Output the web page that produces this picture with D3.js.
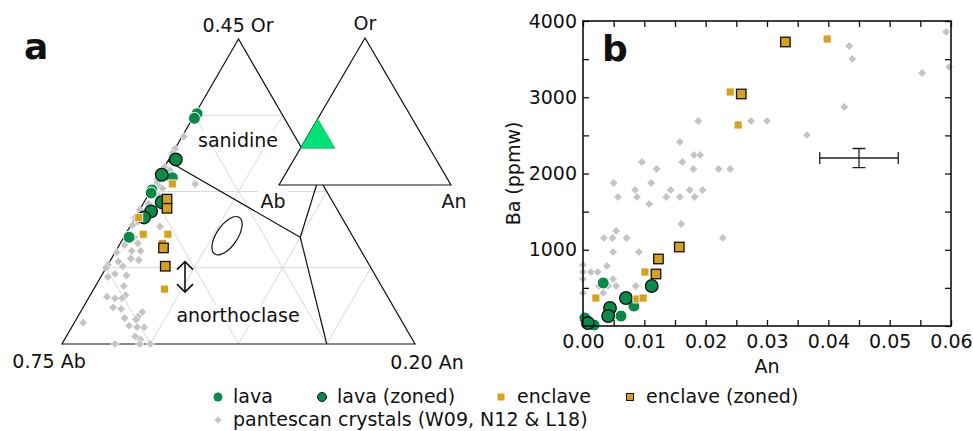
<!DOCTYPE html>
<html><head><meta charset="utf-8">
<script src="https://cdn.jsdelivr.net/npm/d3@7"></script>
<style>
body{margin:0;background:#fff}
svg{display:block}
text{font-family:"DejaVu Sans",sans-serif;fill:#111}
</style>
</head><body>
<svg id="c" width="973" height="431"></svg>
<script>
// ================= DATA =================
// Panel a (ternary, zoomed): points are [An, Or] mole fractions; Ab = 1 - An - Or
const ternLava = [[0.001,0.401],[0.001,0.398],[0.008,0.359],[0.0005,0.351],[0.001,0.349],[0.003,0.320]];
const ternLavaZoned = [[0.004,0.371],[0.001,0.361],[0.010,0.343],[0.007,0.337],[0.005,0.333]];
const ternEnclave = [[0.010,0.355],[0.002,0.333],[0.010,0.322],[0.024,0.322],[0.024,0.316],[0.040,0.286]];
const ternEnclaveZoned = [[0.012,0.345],[0.015,0.339],[0.026,0.313],[0.033,0.301]];
const ternPantescan = [
 [0.001,0.386],[0.000,0.378],[0.000,0.375],[0.002,0.372],[0.000,0.366],[0.004,0.364],[0.023,0.355],
 [0.000,0.358],[0.001,0.356],[0.004,0.353],[0.006,0.352],[0.005,0.348],[0.003,0.342],[0.000,0.338],
 [0.000,0.333],[0.003,0.330],[0.001,0.328],[0.017,0.327],[0.006,0.320],[0.010,0.316],[0.003,0.315],
 [0.014,0.311],[0.009,0.311],[0.001,0.310],[0.011,0.306],[0.016,0.305],[0.005,0.304],[0.000,0.302],
 [0.009,0.301],[0.000,0.300],[0.007,0.296],[0.014,0.295],[0.004,0.294],[0.016,0.288],[0.020,0.282],
 [0.010,0.281],[0.015,0.280],[0.019,0.280],[0.017,0.274],[0.022,0.273],[0.035,0.271],[0.034,0.268],
 [0.027,0.267],[0.034,0.266],[0.005,0.264],[0.032,0.262],[0.041,0.261],[0.037,0.261],[0.039,0.255],
 [0.043,0.253],[0.030,0.250],[0.044,0.250],[0.050,0.250]
];
// field boundaries (sanidine / anorthoclase / plagioclase), [An, Or]
const boundaries = [
 [[0.000,0.370],[0.100,0.320]],
 [[0.100,0.320],[0.091,0.359]],
 [[0.100,0.320],[0.150,0.250]]
];
// zoom window of the ternary
const orRange = [0.25, 0.45], anRange = [0, 0.20], abRange = [0.55, 0.75];
const ternGridSteps = [0.05, 0.10, 0.15];
const ternCornerLabels = ["0.45 Or", "0.75 Ab", "0.20 An"];
const insetLabels = ["Or", "Ab", "An"];
const fieldLabels = ["sanidine", "anorthoclase"];
// uncertainty ellipse (centre in [An, Or])
const ellipseCentre = [0.058, 0.321];

// Panel b: An (mole fraction) vs Ba (ppmw)
const lavaAn = [0.0033,0.0062,0.0083,0.0003,0.0018];
const lavaBa = [564,131,262,105,13];
const lavaZonedAn = [0.0112,0.0070,0.0044,0.0041,0.0008];
const lavaZonedBa = [525,367,236,131,39];
const enclaveAn = [0.0240,0.0398,0.0253,0.0101,0.0021,0.0088,0.0098];
const enclaveBa = [3069,3764,2636,708,367,354,367];
const enclaveZonedAn = [0.0330,0.0258,0.0157,0.0123,0.0119];
const enclaveZonedBa = [3725,3043,1036,879,682];
const pantAn = [0.0592,0.0597,0.0434,0.0439,0.0553,0.0426,0.0365,0.0274,0.0300,0.0188,0.0158,0.0181,0.0191,
 0.0162,0.0096,0.0120,0.0180,0.0221,0.0240,0.0050,0.0111,0.0085,0.0143,0.0174,0.0195,0.0057,0.0088,0.0136,
 0.0158,0.0182,0.0108,0.0160,0.0034,0.0048,0.0054,0.0071,0.0228,0.0049,0.0091,0.0039,0.0000,0.0013,0.0024,
 0.0000,0.0000,0.0049,0.0054,0.0086,0.0041,0.0026,0.0000,0.0033];
const pantBa = [3856,3397,3672,3502,3318,2872,2505,2689,2689,2689,2413,2243,2243,
 2151,2151,2059,2059,2059,2059,1875,1875,1784,1784,1784,1784,1692,1692,1692,
 1692,1692,1600,1338,1154,1154,1246,1154,1154,971,971,787,800,708,708,
 708,616,616,525,525,525,525,433,433];
const errAn = 0.045, errBa = 2203, errAnSd = 0.0064, errBaSd = 125;
const xTicks = [0,0.01,0.02,0.03,0.04,0.05,0.06];
const yTicks = [1000,2000,3000,4000];
const legendItems = ["lava","lava (zoned)","enclave","enclave (zoned)","pantescan crystals (W09, N12 & L18)"];

// ================= STYLE =================
const GREEN = "#0a8a48", GOLD = "#d6a020", GREY = "#c4c4c4", GRID = "#d9d9d9";
const svg = d3.select("#c");

// ================= PANEL A =================
const A = svg.append("g");
const tY = d3.scaleLinear().domain(orRange).range([344, 39]);
const tXo = d3.scaleLinear().domain(orRange).range([62, 238.5]);
const tXa = d3.scaleLinear().domain(anRange).range([0, 353]);
const P = d => [tXo(d[1]) + tXa(d[0]), tY(d[1])];

const gridSegs = [];
ternGridSteps.forEach(s => {
  const o = orRange[0] + s;
  gridSegs.push([[0, o], [1 - o - abRange[0], o]]);
  const an = anRange[0] + s;
  gridSegs.push([[an, orRange[0]], [an, 1 - an - abRange[0]]]);
  const ab = abRange[0] + s;
  gridSegs.push([[0, 1 - ab], [1 - ab - orRange[0], orRange[0]]]);
});
A.selectAll("line.grid").data(gridSegs).join("line")
  .attr("x1", d => P(d[0])[0]).attr("y1", d => P(d[0])[1])
  .attr("x2", d => P(d[1])[0]).attr("y2", d => P(d[1])[1])
  .attr("stroke", GRID).attr("stroke-width", 1);

const corners = [[0, orRange[1]], [0, orRange[0]], [anRange[1], orRange[0]]];
A.append("path").attr("d", "M" + corners.map(P).join("L") + "Z")
  .attr("fill", "none").attr("stroke", "#111").attr("stroke-width", 1.2);

A.selectAll("path.bd").data(boundaries).join("path")
  .attr("d", d => "M" + d.map(P).join("L"))
  .attr("fill", "none").attr("stroke", "#111").attr("stroke-width", 1.2);

function bgText(g, x, y, t, size, anchor) {
  const tx = g.append("text").attr("x", x).attr("y", y).attr("text-anchor", anchor || "middle")
    .attr("font-size", size).text(t);
  const b = tx.node().getBBox();
  g.insert("rect", () => tx.node()).attr("x", b.x - 2).attr("y", b.y + 1).attr("width", b.width + 4)
    .attr("height", b.height - 2).attr("fill", "#fff");
  return tx;
}
bgText(A, 238, 147, fieldLabels[0], 19);
bgText(A, 238, 322, fieldLabels[1], 19);

const ec = P(ellipseCentre);
A.append("ellipse").attr("cx", 0).attr("cy", 0).attr("rx", 10.5).attr("ry", 22)
  .attr("transform", `translate(${ec[0]},${ec[1]}) rotate(34)`)
  .attr("fill", "none").attr("stroke", "#111").attr("stroke-width", 1.2);
const arrTop = P([0.044, 0.304]), arrBot = P([0.044, 0.284]);
const ax = 185;
A.append("path").attr("d", `M${ax},${arrTop[1]}L${ax},${arrBot[1]}M${ax-8},${arrTop[1]+8}L${ax},${arrTop[1]}L${ax+8},${arrTop[1]+8}M${ax-8},${arrBot[1]-8}L${ax},${arrBot[1]}L${ax+8},${arrBot[1]-8}`)
  .attr("fill", "none").attr("stroke", "#111").attr("stroke-width", 1.6);

const diamond = s => `M0,${-s}L${s},0L0,${s}L${-s},0Z`;
function drawPoints(g, pts, kind) {
  if (kind === "pant") {
    g.selectAll(null).data(pts).join("path").attr("d", diamond(4.3))
      .attr("transform", d => `translate(${d[0]},${d[1]})`)
      .attr("fill", GREY).attr("stroke", "#fff").attr("stroke-width", 0.7);
  } else if (kind === "lava" || kind === "lavaZ") {
    g.selectAll(null).data(pts).join("circle").attr("cx", d => d[0]).attr("cy", d => d[1])
      .attr("r", kind === "lava" ? 6 : 6.3).attr("fill", GREEN)
      .attr("stroke", kind === "lava" ? "#fff" : "#111").attr("stroke-width", kind === "lava" ? 1 : 1.3);
  } else {
    const s = kind === "enc" ? 8 : 9.5;
    g.selectAll(null).data(pts).join("rect").attr("x", d => d[0] - s/2).attr("y", d => d[1] - s/2)
      .attr("width", s).attr("height", s).attr("fill", GOLD)
      .attr("stroke", kind === "enc" ? "#fff" : "#111").attr("stroke-width", kind === "enc" ? 0.8 : 1.3);
  }
}
drawPoints(A, ternPantescan.map(P), "pant");
drawPoints(A, ternLava.map(P), "lava");
drawPoints(A, ternLavaZoned.map(P), "lavaZ");
drawPoints(A, ternEnclave.map(P), "enc");
drawPoints(A, ternEnclaveZoned.map(P), "encZ");

A.append("text").attr("x", 238).attr("y", 32).attr("text-anchor", "middle").attr("font-size", 19).text(ternCornerLabels[0]);
A.append("text").attr("x", 49).attr("y", 368).attr("text-anchor", "middle").attr("font-size", 19).text(ternCornerLabels[1]);
A.append("text").attr("x", 427).attr("y", 369).attr("text-anchor", "middle").attr("font-size", 19).text(ternCornerLabels[2]);

const iY = d3.scaleLinear().domain([0, 1]).range([185, 38]);
const iXo = d3.scaleLinear().domain([0, 1]).range([279, 365]);
const iXa = d3.scaleLinear().domain([0, 1]).range([0, 172]);
const PI_ = d => [iXo(d[1]) + iXa(d[0]), iY(d[1])];
A.append("path").attr("d", "M" + [[0,1],[0,0],[1,0]].map(PI_).join("L") + "Z")
  .attr("fill", "#fff").attr("stroke", "#111").attr("stroke-width", 1.2);
A.append("path").attr("d", "M" + corners.map(PI_).join("L") + "Z")
  .attr("fill", "#00e277").attr("stroke", "#1fb364").attr("stroke-width", 0.8);
A.append("text").attr("x", 365).attr("y", 30).attr("text-anchor", "middle").attr("font-size", 19).text(insetLabels[0]);
bgText(A, 273, 208, insetLabels[1], 19);
A.append("text").attr("x", 454).attr("y", 208).attr("text-anchor", "middle").attr("font-size", 19).text(insetLabels[2]);

A.append("text").attr("x", 24).attr("y", 59).attr("font-family", "Liberation Sans, Arial, sans-serif")
  .attr("font-weight", "bold").attr("font-size", 36).text("a");

// ================= PANEL B =================
const B = svg.append("g");
const x = d3.scaleLinear().domain([0, 0.06]).range([583, 951]);
const y = d3.scaleLinear().domain([0, 4000]).range([326, 21]);
const minorX = d3.range(0, 0.0601, 0.005), minorY = d3.range(0, 4001, 500);
function styleAxis(g) {
  g.select(".domain").remove();
  g.selectAll(".tick line").attr("stroke", "#111").attr("stroke-width", 1.3);
  g.selectAll("text").attr("font-family", "DejaVu Sans, sans-serif").attr("font-size", 19).attr("fill", "#111");
}
B.append("g").attr("transform", "translate(0,326)")
  .call(d3.axisBottom(x).tickValues(minorX).tickSize(-6).tickFormat("")).call(styleAxis);
B.append("g").attr("transform", "translate(0,326)")
  .call(d3.axisBottom(x).tickValues(xTicks).tickSize(0).tickPadding(9).tickFormat(d3.format(".2f"))).call(styleAxis);
B.append("g").attr("transform", "translate(0,21)")
  .call(d3.axisTop(x).tickValues(minorX).tickSize(-6).tickFormat("")).call(styleAxis);
B.append("g").attr("transform", "translate(583,0)")
  .call(d3.axisLeft(y).tickValues(minorY).tickSize(-6).tickFormat("")).call(styleAxis);
B.append("g").attr("transform", "translate(583,0)")
  .call(d3.axisLeft(y).tickValues(yTicks).tickSize(0).tickPadding(6).tickFormat(d3.format("d"))).call(styleAxis);
B.append("g").attr("transform", "translate(951,0)")
  .call(d3.axisRight(y).tickValues(minorY).tickSize(-6).tickFormat("")).call(styleAxis);

const zipB = (xs, ys) => xs.map((v, i) => [x(v), y(ys[i])]);
drawPoints(B, zipB(pantAn, pantBa), "pant");
drawPoints(B, zipB(lavaAn, lavaBa), "lava");
drawPoints(B, zipB(lavaZonedAn, lavaZonedBa), "lavaZ");
drawPoints(B, zipB(enclaveAn, enclaveBa), "enc");
drawPoints(B, zipB(enclaveZonedAn, enclaveZonedBa), "encZ");

const ex0 = x(errAn - errAnSd), ex1 = x(errAn + errAnSd), ecx = x(errAn);
const ey = y(errBa), ey0 = y(errBa - errBaSd), ey1 = y(errBa + errBaSd);
B.append("path").attr("d",
  `M${ex0},${ey}L${ex1},${ey}M${ex0},${ey-6}L${ex0},${ey+6}M${ex1},${ey-6}L${ex1},${ey+6}` +
  `M${ecx},${ey0}L${ecx},${ey1}M${ecx-6.5},${ey0}L${ecx+6.5},${ey0}M${ecx-6.5},${ey1}L${ecx+6.5},${ey1}`)
  .attr("fill", "none").attr("stroke", "#222").attr("stroke-width", 1.3);

B.append("rect").attr("x", 583).attr("y", 21).attr("width", 368).attr("height", 305)
  .attr("fill", "none").attr("stroke", "#111").attr("stroke-width", 1.6);

B.append("text").attr("x", 767).attr("y", 373).attr("text-anchor", "middle").attr("font-size", 19).text("An");
B.append("text").attr("transform", "translate(520,173.5) rotate(-90)").attr("text-anchor", "middle")
  .attr("font-size", 19).text("Ba (ppmw)");
B.append("text").attr("x", 602).attr("y", 61).attr("font-family", "Liberation Sans, Arial, sans-serif")
  .attr("font-weight", "bold").attr("font-size", 36).text("b");

// ================= LEGEND =================
const L = svg.append("g");
const legPos = [[218,397,233,403],[322,397,337,403],[501,397,517,403],[630,397,646,403],[218,420,233,426]];
const legKinds = ["lava","lavaZ","enc","encZ","pant"];
const legItems = legendItems.map((t, i) => ({t, k: legKinds[i], p: legPos[i]}));
legItems.forEach(it => {
  const [mx, my, tx, ty] = it.p;
  if (it.k === "lava") L.append("circle").attr("cx", mx).attr("cy", my).attr("r", 4.5).attr("fill", GREEN);
  if (it.k === "lavaZ") L.append("circle").attr("cx", mx).attr("cy", my).attr("r", 4.5).attr("fill", GREEN).attr("stroke", "#111").attr("stroke-width", 1);
  if (it.k === "enc") L.append("rect").attr("x", mx-3.5).attr("y", my-3.5).attr("width", 7).attr("height", 7).attr("fill", GOLD);
  if (it.k === "encZ") L.append("rect").attr("x", mx-3.5).attr("y", my-3.5).attr("width", 7).attr("height", 7).attr("fill", GOLD).attr("stroke", "#111").attr("stroke-width", 1);
  if (it.k === "pant") L.append("path").attr("d", diamond(3.5)).attr("transform", `translate(${mx},${my})`).attr("fill", GREY);
  L.append("text").attr("x", tx).attr("y", ty).attr("font-size", 19).text(it.t);
});
</script>
</body></html>
